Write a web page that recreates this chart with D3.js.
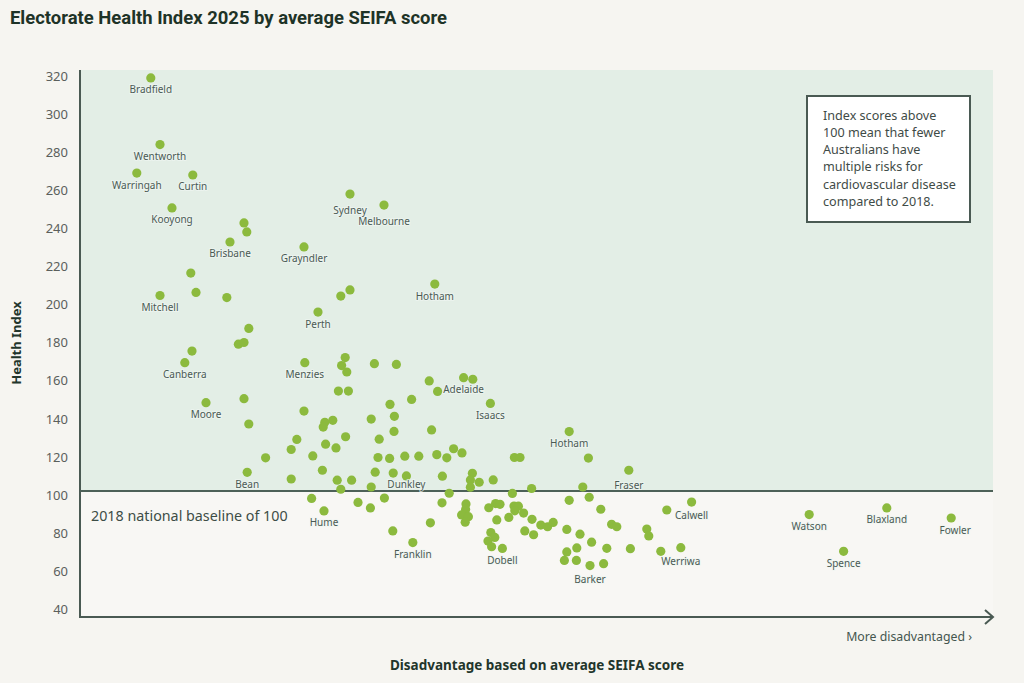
<!DOCTYPE html>
<html>
<head>
<meta charset="utf-8">
<script src="https://cdn.jsdelivr.net/npm/d3@7"></script>
<style>
  html, body { margin: 0; padding: 0; background: #f6f5f1; }
  svg { display: block; }
</style>
</head>
<body>
<svg id="chart" width="1024" height="683"></svg>
<script>
// ---------------- DATA ----------------
const electorates = [
  "Bradfield","Wentworth","Warringah","Curtin","Kooyong","","","Brisbane","Grayndler","Sydney",
  "Melbourne","","","Mitchell","","","","Hotham","Perth","",
  "","","","Canberra","Menzies","","","","","",
  "","","Adelaide","","","","Moore","","Isaacs","",
  "","","","","","","","","","",
  "Hotham","","","","","","","","","",
  "","","","","","","","","","",
  "Bean","","","","","","","","Dunkley","",
  "","","","","","","Fraser","","","",
  "","","","","","Hume","","","","",
  "","","","","","","","","","",
  "","","","","","","","Franklin","","",
  "","","","","Dobell","","","","","",
  "","","","","","Barker","","","","",
  "","","","","Werriwa","","Calwell","Watson","Blaxland","Fowler",
  "Spence"
];
const seifaScore = [
  1112.3,1110,1115.8,1101.8,1107,1089,1088.3,1092.5,1074,1062.5,
  1054,1102.3,1101,1110,1093.3,1064.8,1062.5,1041.3,1070.5,1087.8,
  1090.4,1089,1102,1103.8,1073.8,1063.7,1064.6,1063.3,1056.4,1050.9,
  1042.7,1040.6,1034.1,1031.8,1065.4,1062.9,1098.5,1089,1027.4,1074,
  1052.5,1047.1,1051.4,1057.2,1068.8,1066.8,1069.2,1087.8,1042.1,1051.5,
  1007.7,1075.8,1077.2,1068.6,1066,1063.6,1055.2,1083.6,1071.8,1055.5,
  1052.6,1048.8,1045.3,1040.8,1038.3,1036.6,1034.5,1021.4,1020,1002.9,
  1088.2,1077.2,1069.4,1065.7,1064.8,1062.1,1056.2,1051.7,1048.4,1057.2,
  1039.4,1031.9,1032.4,1030.2,1032.4,1026.7,992.8,1017.1,1004.3,1072.1,
  1060.5,1057.4,1053.9,1037.7,1039.5,1069,1021.9,1033.5,1033.6,1034.6,
  1032.9,1033.7,1027.8,1026.1,1025,1021.5,1020.4,1021.3,1019.1,1022.8,
  1025.8,1017,1014.8,1013.1,1011.7,1042.4,1051.8,1046.8,1018.8,1016.6,
  1027.3,1026.3,1028,1027.1,1024.4,1007.7,1002.7,999.8,1008.3,1005,
  1002.1,1005.8,1008.3,1008.9,1005.9,1002.5,999.1,998.3,992.4,997.1,
  995.8,988.3,987.8,984.8,979.8,983.3,977.1,947.7,928.3,912.2,
  939.1
];
const healthIndex = [
  317,282,267,266,248.7,240.8,236.1,230.8,228.2,256,
  250.2,214.5,204.3,202.7,201.6,202.4,205.6,208.7,194,185.4,
  177.1,178,173.5,167.4,167.4,170.1,165.9,162.5,166.9,166.5,
  157.8,152.3,159.5,158.7,152.5,152.5,146.4,148.5,146,142,
  145.5,148.1,139.2,137.8,136.1,137.1,133.6,135.2,132.1,131.3,
  131.2,127.1,121.8,124.6,122.6,128.5,127.2,117.4,118.4,117.6,
  117.1,118.3,118.3,119.1,117.4,122.2,120,117.6,117.6,117.3,
  109.8,106.3,110.9,105.7,100.9,105.7,109.9,109.4,107.9,102.1,
  107.8,109.3,105.8,104.6,102,105.8,110.9,101.3,102.1,96.1,
  94,91.1,96.3,98.8,93.8,89.5,98.7,93.2,90.3,87.4,
  86.5,83.6,91.2,93.4,93,92.1,92,89.6,88.4,86.1,
  84.8,85.1,82.1,81.2,83.5,83.3,79,72.9,79,77,
  78.2,75.6,73.7,70.7,69.8,95.1,96.7,90.4,79.8,77.3,
  73.1,70.1,68,63.5,63.5,60.8,61.8,69.9,69.7,82.5,
  81.2,80,76.4,68.3,70.2,90,94.2,87.6,91.1,85.8,
  68.3
];
const yTicks = [40,60,80,100,120,140,160,180,200,220,240,260,280,300,320];
const baselineValue = 100;
const titleText = "Electorate Health Index 2025 by average SEIFA score";
const yTitle = "Health Index";
const xTitle = "Disadvantage based on average SEIFA score";
const xNote = "More disadvantaged \u203A";
const baselineNote = "2018 national baseline of 100";
const boxLines = ["Index scores above","100 mean that fewer","Australians have","multiple risks for","cardiovascular disease","compared to 2018."];

// ---------------- DRAW ----------------
(function () {
const svg = d3.select("#chart");
const pL = 80, pR = 993, pT = 70, pB = 617;
const x = d3.scaleLinear().domain([1130, 900]).range([80, 1000]);
const y = d3.scaleLinear().domain([40, 320]).range([605.2, 72.2]);
const font = "'Noto Sans', 'Open Sans', sans-serif";
const ink = "#45564f";

svg.append("rect").attr("width",1024).attr("height",683).attr("fill","#f6f5f1");

svg.append("rect").attr("x",pL).attr("y",pT).attr("width",pR-pL)
  .attr("height",y(baselineValue)-pT).attr("fill","#e3eee6");
svg.append("rect").attr("x",pL).attr("y",y(baselineValue)).attr("width",pR-pL)
  .attr("height",pB-y(baselineValue)).attr("fill","#f8f7f4");

svg.append("text").attr("x",10).attr("y",24).text(titleText)
  .attr("font-family","Roboto, 'Noto Sans', sans-serif").attr("font-weight","bold")
  .attr("font-size",18).attr("fill","#1e3327")
  .attr("textLength",437).attr("lengthAdjust","spacingAndGlyphs");

const yAxis = d3.axisLeft(y).tickValues(yTicks).tickSize(0).tickPadding(0);
const gy = svg.append("g").attr("transform","translate(68,0)").call(yAxis);
gy.select(".domain").remove();
gy.selectAll("text").attr("font-family",font).attr("font-size",13)
  .attr("fill","#5b5f5c").attr("y",4);

svg.append("text").attr("transform","translate(21,343) rotate(-90)")
  .attr("text-anchor","middle").text(yTitle)
  .attr("font-family",font).attr("font-weight","bold").attr("font-size",13).attr("fill","#22352b");

svg.append("line").attr("x1",pL).attr("x2",pL).attr("y1",pT).attr("y2",pB)
  .attr("stroke","#4a5a53").attr("stroke-width",2);
svg.append("line").attr("x1",pL-1).attr("x2",pR).attr("y1",pB).attr("y2",pB)
  .attr("stroke","#4a5a53").attr("stroke-width",2);
svg.append("path").attr("d",`M${pR-8},${pB-7} L${pR},${pB} L${pR-8},${pB+7}`)
  .attr("fill","none").attr("stroke","#4a5a53").attr("stroke-width",2);

svg.append("line").attr("x1",pL).attr("x2",pR).attr("y1",y(baselineValue)).attr("y2",y(baselineValue))
  .attr("stroke","#4d6158").attr("stroke-width",2);
svg.append("text").attr("x",91).attr("y",521).text(baselineNote)
  .attr("font-family",font).attr("font-size",14.3).attr("fill","#3d4d46");

svg.append("rect").attr("x",807).attr("y",96).attr("width",163).attr("height",126)
  .attr("fill","#ffffff").attr("stroke","#4a5a53").attr("stroke-width",2);
svg.append("g").selectAll("text").data(boxLines).join("text")
  .attr("x",823).attr("y",(d,i)=>119.5+i*17.3).text(d=>d)
  .attr("font-family",font).attr("font-size",12.6).attr("fill","#3f4b47");

svg.append("text").attr("x",972).attr("y",641).attr("text-anchor","end").text(xNote)
  .attr("font-family",font).attr("font-size",12.3).attr("fill",ink);
svg.append("text").attr("x",537).attr("y",670).attr("text-anchor","middle").text(xTitle)
  .attr("font-family",font).attr("font-weight","bold").attr("font-size",13.5).attr("fill","#22352b");

const pts = electorates.map((n,i)=>({name:n, sx:seifaScore[i], hy:healthIndex[i]}));
svg.append("g").selectAll("circle").data(pts).join("circle")
  .attr("cx",d=>x(d.sx)).attr("cy",d=>y(d.hy)).attr("r",4.6)
  .attr("fill","#8cba3e");

const nudge = {Sydney:[0,4], Melbourne:[0,4], Fraser:[0,3], Barker:[0,2], Werriwa:[0,2], Dunkley:[0,-3], Fowler:[4,0], Calwell:[0,1]};
svg.append("g").selectAll("text").data(pts.filter(d=>d.name)).join("text")
  .attr("x",d=>x(d.sx)+((nudge[d.name]||[0,0])[0]))
  .attr("y",d=>y(d.hy)+15.5+((nudge[d.name]||[0,0])[1]))
  .attr("text-anchor","middle").text(d=>d.name)
  .attr("font-family",font).attr("font-size",10).attr("fill","#4a5a54")
  .attr("stroke","rgba(240,246,242,0.7)").attr("stroke-width",2).attr("paint-order","stroke");
})();
</script>
</body>
</html>
